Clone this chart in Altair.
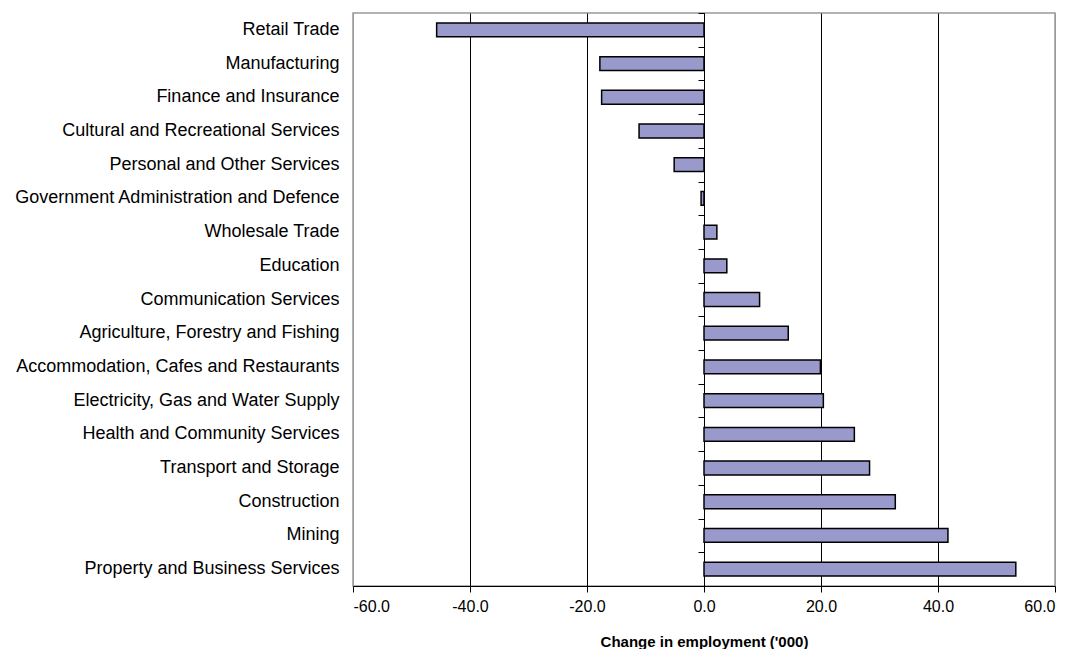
import altair as alt
import pandas as pd

industries = [
    "Retail Trade", "Manufacturing", "Finance and Insurance",
    "Cultural and Recreational Services", "Personal and Other Services",
    "Government Administration and Defence", "Wholesale Trade", "Education",
    "Communication Services", "Agriculture, Forestry and Fishing",
    "Accommodation, Cafes and Restaurants", "Electricity, Gas and Water Supply",
    "Health and Community Services", "Transport and Storage", "Construction",
    "Mining", "Property and Business Services",
]
change = [-45.7, -17.8, -17.5, -11.1, -5.1, -0.5, 2.2, 3.9, 9.5, 14.4,
          19.9, 20.4, 25.7, 28.3, 32.7, 41.7, 53.3]
x_ticks = [-60, -40, -20, 0, 20, 40, 60]

df = pd.DataFrame({"industry": industries, "change": change})

FONT = "Liberation Sans"
W, H = 702, 573

xscale = alt.Scale(domain=[-60, 60], nice=False)
yscale = alt.Scale(domain=industries, paddingInner=0.59, paddingOuter=0.295)
yscale_ticks = alt.Scale(domain=industries, paddingInner=0, paddingOuter=0)

label_expr = "replace(format(datum.value, '.1f'), '\u2212', '-')"

bars = alt.Chart(df).mark_bar(
    color="#9999CC", stroke="black", strokeWidth=1.5
).encode(
    x=alt.X("change:Q", scale=xscale,
            title="Change in employment ('000)",
            axis=alt.Axis(values=x_ticks, labelExpr=label_expr,
                          grid=True,
                          gridColor={"condition": {"test": "abs(datum.value) == 60", "value": "#999999"}, "value": "black"},
                          gridWidth=1,
                          domainColor="black", tickColor="black", tickSize=6,
                          labelFont=FONT, labelFontSize=16, labelColor="black",
                          labelPadding=6,
                          titleFont=FONT, titleFontSize=15, titleFontWeight="bold",
                          titleColor="black", titlePadding=20)),
    y=alt.Y("industry:N", scale=yscale, sort=industries, title=None,
            axis=alt.Axis(domain=False, ticks=False, labelFont=FONT,
                          labelFontSize=18, labelColor="black",
                          labelPadding=14, labelLimit=500)),
)

zero_axis = alt.Chart(df).mark_point(opacity=0).encode(
    y=alt.Y("industry:N", scale=yscale_ticks, sort=industries, title=None,
            axis=alt.Axis(orient="left", offset=-(W / 2), labels=False,
                          domainColor="black", domainWidth=1,
                          tickBand="extent", tickColor="black",
                          tickSize=6, tickWidth=1)),
)

chart = alt.layer(bars, zero_axis).resolve_scale(y="independent").resolve_axis(
    y="independent"
).properties(
    width=W, height=H, background="white",
    padding={"top": 4, "left": 5, "right": 0, "bottom": 0},
).configure_view(stroke="#999999", strokeWidth=1.5)

chart.save("out.html", embed_options={"renderer": "svg", "actions": False})
